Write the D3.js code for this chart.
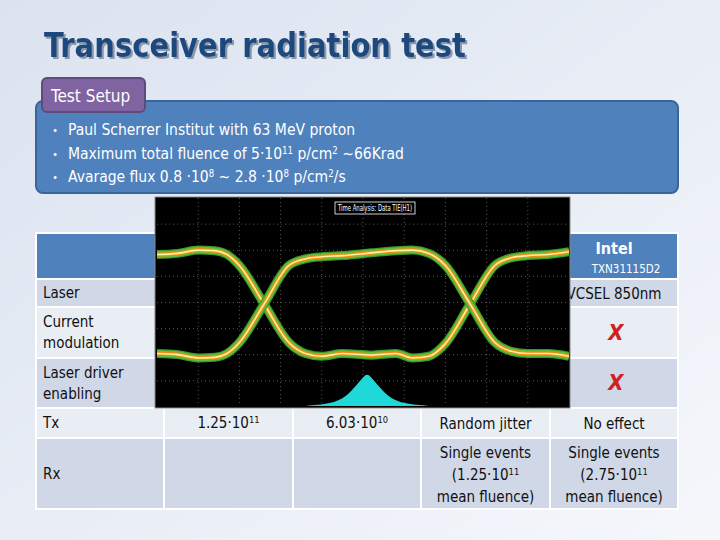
<!DOCTYPE html>
<html><head><meta charset="utf-8">
<script src="https://cdn.jsdelivr.net/npm/d3@7"></script>
<style>body{margin:0;}svg{display:block;}</style>
</head><body><div id="chart"></div>
<script>
const width = 720, height = 540;
const font = "'Liberation Sans Narrow','DejaVu Sans Condensed',sans-serif";

// slide texts
const bullets = [
  [["Paul Scherrer Institut with 63 MeV proton", ""]],
  [["Maximum total fluence of 5·10", ""], ["11", "sup"], [" p/cm", ""], ["2", "sup"], [" ~66Krad", ""]],
  [["Avarage flux 0.8 ·10", ""], ["8", "sup"], [" ~ 2.8 ·10", ""], ["8", "sup"], [" p/cm", ""], ["2", "sup"], ["/s", ""]]
];
const rowLabels = [["Laser"], ["Current", "modulation"], ["Laser driver", "enabling"], ["Tx"], ["Rx"]];
const colEdges = [36, 164, 293, 421, 550, 678];
const rowEdges = [233, 279, 307, 358, 408, 438, 509];
const txCells = [[["1.25·10", ""], ["11", "sup"]], [["6.03·10", ""], ["10", "sup"]]];

// eye diagram traces (time 0..1, amplitude -1..1)
const eyeT = [0, 0.05, 0.1, 0.14, 0.17, 0.2, 0.26, 0.32, 0.36, 0.4, 0.45, 0.52, 0.58, 0.62, 0.66, 0.7, 0.76, 0.82, 0.86, 0.9, 0.95, 1];
const traceA = [0.9, 0.92, 0.98, 0.97, 0.9, 0.7, 0, -0.7, -0.9, -0.95, -0.9, -0.93, -0.9, -0.98, -0.95, -0.72, 0, 0.7, 0.84, 0.88, 0.9, 0.95];
const traceB = [-0.9, -0.92, -0.98, -0.97, -0.9, -0.7, 0, 0.7, 0.82, 0.86, 0.88, 0.93, 0.97, 0.98, 0.92, 0.7, 0, -0.7, -0.86, -0.9, -0.9, -0.95];
const histT = [0.36, 0.39, 0.42, 0.44, 0.46, 0.48, 0.5, 0.51, 0.52, 0.54, 0.56, 0.58, 0.6, 0.63, 0.66];
const histV = [0, 0.03, 0.08, 0.16, 0.3, 0.55, 0.85, 0.95, 0.85, 0.55, 0.3, 0.16, 0.08, 0.03, 0];

const svg = d3.select("#chart").append("svg").attr("width", width).attr("height", height);
const defs = svg.append("defs");
const bg = defs.append("linearGradient").attr("id", "bg").attr("x1", 0).attr("y1", 0).attr("x2", 1).attr("y2", 1);
bg.append("stop").attr("offset", 0).attr("stop-color", "#dbe3f0");
bg.append("stop").attr("offset", 1).attr("stop-color", "#f5f7fb");
svg.append("rect").attr("width", width).attr("height", height).attr("fill", "url(#bg)");
defs.append("filter").attr("id", "shadow").append("feDropShadow")
  .attr("dx", 2).attr("dy", 2).attr("stdDeviation", 0.6).attr("flood-color", "#8c98ac");

// title
svg.append("text").attr("x", 44).attr("y", 57).attr("fill", "#1f497d").attr("filter", "url(#shadow)")
  .attr("textLength", 422).attr("lengthAdjust", "spacingAndGlyphs")
  .style("font-family", font).style("font-size", "33px").style("font-weight", "bold")
  .text("Transceiver radiation test");

// blue setup box
svg.append("rect").attr("x", 36).attr("y", 101).attr("width", 642).attr("height", 92).attr("rx", 7)
  .attr("fill", "#4f81bd").attr("stroke", "#3a659a").attr("stroke-width", 2);
svg.append("rect").attr("x", 42).attr("y", 78).attr("width", 103).attr("height", 34).attr("rx", 5)
  .attr("fill", "#8064a2").attr("stroke", "#5e4a7b").attr("stroke-width", 2);
svg.append("text").attr("x", 51).attr("y", 102).attr("fill", "white")
  .style("font-family", font).style("font-size", "17px").text("Test Setup");

function rich(sel, parts) {
  parts.forEach(function(p) {
    const t = sel.append("tspan").text(p[0]);
    if (p[1] === "sup") t.attr("baseline-shift", "super").style("font-size", "0.62em");
  });
}
bullets.forEach(function(b, i) {
  const y = 135 + i * 23.5;
  svg.append("text").attr("x", 53).attr("y", y).attr("fill", "white").style("font-size", "12px").text("•");
  const t = svg.append("text").attr("x", 68).attr("y", y).attr("fill", "white")
    .style("font-family", font).style("font-size", "15.5px");
  rich(t, b);
});

// table
const rowFill = ["#d0d8e8", "#e9edf4", "#d0d8e8", "#e9edf4", "#d0d8e8"];
svg.append("rect").attr("x", colEdges[0]).attr("y", rowEdges[0]).attr("width", colEdges[5] - colEdges[0])
  .attr("height", rowEdges[1] - rowEdges[0]).attr("fill", "#4f81bd");
rowLabels.forEach(function(r, i) {
  const y0 = rowEdges[i + 1], y1 = rowEdges[i + 2];
  for (let c = 0; c < 5; c++) {
    svg.append("rect").attr("x", colEdges[c]).attr("y", y0).attr("width", colEdges[c + 1] - colEdges[c])
      .attr("height", y1 - y0).attr("fill", rowFill[i]).attr("stroke", "white").attr("stroke-width", 2);
  }
  const t = svg.append("text").attr("x", 43).attr("fill", "#111")
    .style("font-family", font).style("font-size", "15px");
  const mid = (y0 + y1) / 2;
  r.forEach(function(line, k) {
    t.append("tspan").attr("x", 43).attr("y", mid + 5 + (k - (r.length - 1) / 2) * 21).text(line);
  });
});
svg.append("rect").attr("x", colEdges[0]).attr("y", rowEdges[0]).attr("width", colEdges[5] - colEdges[0])
  .attr("height", rowEdges[6] - rowEdges[0]).attr("fill", "none").attr("stroke", "white").attr("stroke-width", 2);

function cellText(cx, y, parts, size) {
  const t = svg.append("text").attr("x", cx).attr("y", y).attr("text-anchor", "middle").attr("fill", "#111")
    .style("font-family", font).style("font-size", (size || 15) + "px");
  rich(t, parts);
}
const cx = function(c) { return (colEdges[c] + colEdges[c + 1]) / 2; };
txCells.forEach(function(p, i) { cellText(cx(i + 1), 428, p); });
cellText(cx(3), 429, [["Random jitter", ""]]);
cellText(cx(4), 429, [["No effect", ""]]);
cellText(cx(3), 458, [["Single events", ""]]);
cellText(cx(3), 480, [["(1.25·10", ""], ["11", "sup"]]);
cellText(cx(3), 502, [["mean fluence)", ""]]);
cellText(cx(4), 458, [["Single events", ""]]);
cellText(cx(4), 480, [["(2.75·10", ""], ["11", "sup"]]);
cellText(cx(4), 502, [["mean fluence)", ""]]);
svg.append("text").attr("x", cx(4)).attr("y", 254).attr("text-anchor", "middle").attr("fill", "white")
  .style("font-family", font).style("font-size", "16px").style("font-weight", "bold").text("Intel");
svg.append("text").attr("x", 626).attr("y", 273).attr("text-anchor", "middle").attr("fill", "white")
  .style("font-family", font).style("font-size", "11.5px").text("TXN31115D2");
svg.append("text").attr("x", 614).attr("y", 299).attr("text-anchor", "middle").attr("fill", "#111")
  .style("font-family", font).style("font-size", "15px").text("VCSEL 850nm");
[340, 390].forEach(function(y) {
  svg.append("text").attr("x", 616).attr("y", y).attr("text-anchor", "middle").attr("fill", "#d02020")
    .style("font-family", font).style("font-size", "22px").style("font-style", "italic").style("font-weight", "bold").text("X");
});

// eye diagram screenshot
const ex = d3.scaleLinear().domain([0, 1]).range([157, 569]);
const ey = d3.scaleLinear().domain([-1, 1]).range([359, 249]);
const eye = svg.append("g");
eye.append("rect").attr("x", 155).attr("y", 197).attr("width", 415).attr("height", 211)
  .attr("fill", "black").attr("stroke", "#888");
const clip = defs.append("clipPath").attr("id", "eyeclip");
clip.append("rect").attr("x", 157).attr("y", 198).attr("width", 412).attr("height", 208);
const g = eye.append("g").attr("clip-path", "url(#eyeclip)");
d3.range(1, 10).forEach(function(i) {
  g.append("line").attr("x1", ex(i / 10)).attr("x2", ex(i / 10)).attr("y1", 198).attr("y2", 407)
    .attr("stroke", "#555").attr("stroke-dasharray", "1,3");
});
d3.range(1, 8).forEach(function(i) {
  const y = 198 + i * 209 / 8;
  g.append("line").attr("x1", 157).attr("x2", 569).attr("y1", y).attr("y2", y)
    .attr("stroke", "#555").attr("stroke-dasharray", "1,3");
});
const line = d3.line().x(function(d) { return ex(d[0]); }).y(function(d) { return ey(d[1]); }).curve(d3.curveMonotoneX);
[traceA, traceB].forEach(function(tr) {
  const pts = eyeT.map(function(t, i) { return [t, tr[i]]; });
  [["#3a9a2a", 9], ["#5cc040", 6.5], ["#f08a10", 4], ["#fff2a0", 1.6]].forEach(function(s) {
    g.append("path").attr("d", line(pts)).attr("fill", "none").attr("stroke", s[0]).attr("stroke-width", s[1]);
  });
});
const hy = d3.scaleLinear().domain([0, 1]).range([406, 372]);
g.append("path").attr("d", d3.area().x(function(d, i) { return ex(histT[i]); }).y0(406)
  .y1(function(d) { return hy(d); }).curve(d3.curveBasis)(histV)).attr("fill", "#20d8d8");
eye.append("rect").attr("x", 335).attr("y", 202).attr("width", 80).attr("height", 12)
  .attr("fill", "black").attr("stroke", "white").attr("stroke-width", 0.8);
eye.append("text").attr("x", 375).attr("y", 211).attr("text-anchor", "middle").attr("fill", "white")
  .attr("textLength", 74).attr("lengthAdjust", "spacingAndGlyphs")
  .style("font-family", font).style("font-size", "8.5px").text("Time Analysis: Data TIE(H1)");
</script></body></html>
